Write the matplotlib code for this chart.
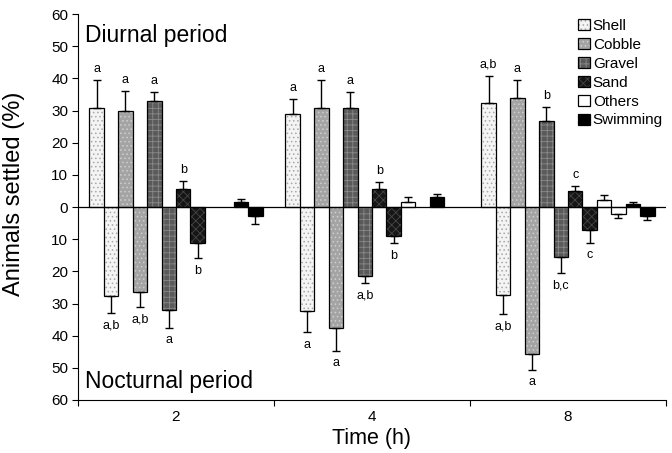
import matplotlib
matplotlib.use("Agg")
import matplotlib.pyplot as plt
import numpy as np
from matplotlib.patches import Patch

plt.rcParams['font.family'] = ['Liberation Sans', 'DejaVu Sans']
plt.rcParams['hatch.linewidth'] = 0.6

times = ["2", "4", "8"]
categories = ["Shell", "Cobble", "Gravel", "Sand", "Others", "Swimming"]

# Diurnal (positive) means and SE, per category across times 2, 4, 8
day_shell = [30.7, 28.8, 32.2]
day_cobble = [29.9, 30.9, 33.8]
day_gravel = [32.9, 30.9, 26.8]
day_sand = [5.7, 5.7, 5.0]
day_others = [0.0, 1.6, 2.3]
day_swim = [1.6, 3.0, 0.8]

day_shell_err = [8.8, 4.7, 8.6]
day_cobble_err = [6.2, 8.5, 5.7]
day_gravel_err = [3.0, 4.9, 4.4]
day_sand_err = [2.5, 2.0, 1.5]
day_others_err = [0.0, 1.4, 1.3]
day_swim_err = [0.8, 1.2, 0.9]

# Nocturnal (plotted downward) means and SE
night_shell = [27.8, 32.2, 27.2]
night_cobble = [26.5, 37.5, 45.8]
night_gravel = [32.0, 21.6, 15.4]
night_sand = [11.2, 9.1, 7.0]
night_others = [0.0, 0.0, 2.1]
night_swim = [2.8, 0.0, 2.8]

night_shell_err = [5.2, 6.7, 6.0]
night_cobble_err = [4.5, 7.2, 4.8]
night_gravel_err = [5.5, 2.0, 5.1]
night_sand_err = [4.8, 2.2, 4.2]
night_others_err = [0.0, 0.0, 1.3]
night_swim_err = [2.6, 0.0, 1.1]

day_letters = [["a", "a", "a", "b", "", ""],
               ["a", "a", "a", "b", "", ""],
               ["a,b", "a", "b", "c", "", ""]]
night_letters = [["a,b", "a,b", "a", "b", "", ""],
                 ["a", "a", "a,b", "b", "", ""],
                 ["a,b", "a", "b,c", "c", "", ""]]

day_vals = [day_shell, day_cobble, day_gravel, day_sand, day_others, day_swim]
day_errs = [day_shell_err, day_cobble_err, day_gravel_err, day_sand_err, day_others_err, day_swim_err]
night_vals = [night_shell, night_cobble, night_gravel, night_sand, night_others, night_swim]
night_errs = [night_shell_err, night_cobble_err, night_gravel_err, night_sand_err, night_others_err, night_swim_err]

# facecolor, hatch, hatch colour
styles = [
    ("#f4f4f4", "....", "#a8a8a8"),
    ("#a4a4a4", "....", "#cfcfcf"),
    ("#5a5a5a", "+++", "#8a8a8a"),
    ("#161616", "xxxx", "#464646"),
    ("#ffffff", None, "#ffffff"),
    ("#000000", None, "#000000"),
]

fig = plt.figure(figsize=(6.72, 4.53), dpi=100)
ax = fig.add_axes([0.116, 0.117, 0.875, 0.852])

x = np.arange(len(times))
group_frac = 0.884
w = group_frac / 12.0
start = -group_frac / 2

for ci, cat in enumerate(categories):
    fc, hatch, hc = styles[ci]
    xd = x + start + (2 * ci + 0.5) * w
    xn = x + start + (2 * ci + 1.5) * w
    dv = np.array(day_vals[ci])
    de = np.array(day_errs[ci])
    nv = -np.array(night_vals[ci])
    ne = np.array(night_errs[ci])
    for xs, vals, errs, sign in ((xd, dv, de, 1), (xn, nv, ne, -1)):
        for k in range(len(times)):
            if vals[k] == 0:
                continue
            ax.bar(xs[k], vals[k], width=w, facecolor=fc, hatch=hatch,
                   edgecolor=hc, linewidth=0, zorder=2)
            ax.bar(xs[k], vals[k], width=w, fill=False, edgecolor="black",
                   linewidth=0.9, zorder=2.5)
            if errs[k] > 0:
                yerr = [[0], [errs[k]]] if sign > 0 else [[errs[k]], [0]]
                ax.errorbar(xs[k], vals[k], yerr=yerr, fmt="none", ecolor="black",
                            elinewidth=1.0, capsize=3, capthick=1.0, zorder=3)
    for k in range(len(times)):
        if day_letters[k][ci]:
            ax.text(xd[k], dv[k] + de[k] + 1.5, day_letters[k][ci], ha="center", va="bottom", fontsize=9)
        if night_letters[k][ci]:
            ax.text(xn[k], nv[k] - ne[k] - 2.0, night_letters[k][ci], ha="center", va="top", fontsize=9)

# legend
handles = []
for fc, hatch, hc in styles:
    handles.append((Patch(facecolor=fc, hatch=hatch, edgecolor=hc, linewidth=0),
                    Patch(fill=False, edgecolor="black", linewidth=0.9)))
ax.legend(handles, categories, loc="upper right", bbox_to_anchor=(1.0, 0.995), frameon=False,
          fontsize=11, handlelength=0.75, handleheight=0.75, handletextpad=0.2, labelspacing=0.32,
          borderaxespad=0.0, borderpad=0.2)

ax.axhline(0, color="black", linewidth=0.9, zorder=4)
ax.set_xlim(-0.5, 2.5)
ax.set_ylim(-60, 60)
yt = np.arange(-60, 61, 10)
ax.set_yticks(yt)
ax.set_yticklabels([str(abs(v)) for v in yt], fontsize=11)
ax.set_xticks([-0.5, 0.5, 1.5, 2.5])
ax.set_xticklabels([])
ax.set_xticks(x, minor=True)
ax.set_xticklabels(times, minor=True, fontsize=11)
ax.tick_params(axis="x", which="minor", length=0, pad=7)
ax.tick_params(axis="x", which="major", length=4, direction="out")
ax.tick_params(axis="y", length=4, direction="out", pad=3)
ax.spines["top"].set_visible(False)
ax.spines["right"].set_visible(False)

ax.set_ylabel("Animals settled (%)", fontsize=17)
ax.yaxis.set_label_coords(-0.09, 0.535)
ax.set_xlabel("Time (h)", fontsize=15.5, labelpad=3)

ax.text(0.012, 0.945, "Diurnal period", transform=ax.transAxes, fontsize=16.5, va="center", ha="left")
ax.text(0.012, 0.048, "Nocturnal period", transform=ax.transAxes, fontsize=16.5, va="center", ha="left")

fig.savefig("out.png", dpi=100)
